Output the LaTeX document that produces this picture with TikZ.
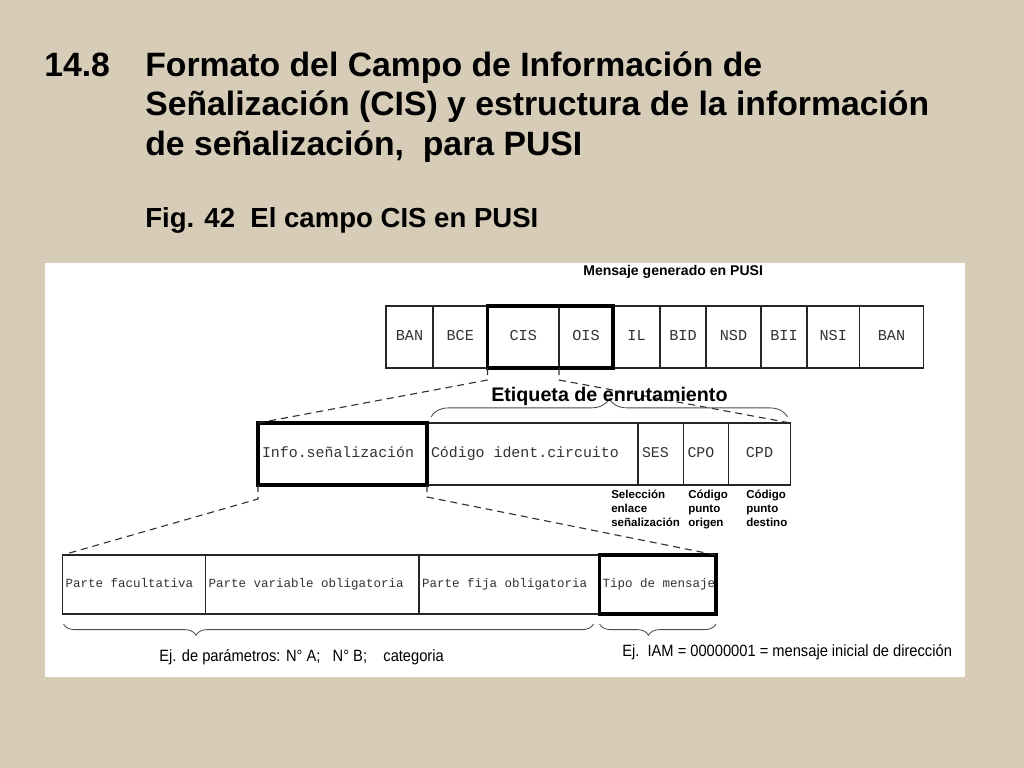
\documentclass[tikz,border=0pt]{standalone}
\usepackage{fontspec}
\setmainfont{Liberation Sans}
\newfontfamily\monofont{Liberation Mono}
\newfontfamily\narrowfont[FakeStretch=0.9]{Liberation Sans}
\usetikzlibrary{positioning, decorations.pathreplacing}
\definecolor{linen}{RGB}{214,204,183}
\newcommand\pxu{0.025cm}
\tikzset{
    field/.style={
        draw=black!85,
        line width=1pt, % borde normal
        minimum height=62*\pxu,
        inner sep=0,
        outer sep=0,
        text height=7.5pt,
        text depth=2pt,
        text=black!80,
        font=\monofont\fontsize{10.8}{12}\selectfont
    },
    cfield/.style={field, minimum width=#1*\pxu},
    lfield/.style={
        field,
        text width=#1*\pxu-8*\pxu,
        inner xsep=4*\pxu,
        align=left,
        font=\monofont\fontsize{10.6}{12}\selectfont,
        execute at begin node={\spaceskip=0.6em\relax} % espacio fijo
    },
    bfield/.style={
        lfield=#1,
        minimum height=59*\pxu,
        text width=#1*\pxu-6*\pxu,
        inner xsep=3*\pxu,
        text height=6.5pt,
        font=\monofont\fontsize{8.9}{10}\selectfont
    },
    thickframe/.style={draw=black, line width=2.2pt},
    cutline/.style={draw=black!80, line width=0.8pt, dash pattern=on 5pt off 3.5pt},
    bracepath/.style={draw=black!70, line width=0.6pt, decorate},
    titletext/.style={inner sep=0, font=\bfseries\fontsize{24}{28}\selectfont},
    figtext/.style={inner sep=0, font=\bfseries\fontsize{19.6}{22}\selectfont},
    boldnote/.style={inner sep=0, font=\bfseries\fontsize{#1}{#1}\selectfont},
    smallnote/.style={inner sep=0, font=\bfseries\fontsize{8.2}{10}\selectfont},
    exnote/.style={inner sep=0, font=\narrowfont\fontsize{11.6}{13}\selectfont}
}
\begin{document}
\begin{tikzpicture}[x=\pxu, y=-\pxu]
\useasboundingbox (0,0) rectangle (1024,768);
\fill[linen] (0,0) rectangle (1024,768);
\fill[white] (45,263) rectangle (965,677);

% titulo
\node[titletext, anchor=base west] (num) at (44,77) {14.8};
\node[titletext, anchor=base west] (tit1) at (145,77) {Formato del Campo de Información de};
\node[titletext, anchor=base west] (tit2) at (145,116) {Señalización (CIS) y estructura de la información};
\node[titletext, anchor=base west] (tit3) at (145,155) {de señalización,\ \ para PUSI};
\node[figtext, anchor=base west] (fig) at (145,227) {Fig. 42\ \ El campo CIS en PUSI};

% mensaje generado en PUSI
\node[boldnote=10, anchor=base west] (msg) at (583,275) {Mensaje generado en PUSI};
\node[cfield=47, anchor=north west] (ban1) at (386,306) {BAN};
\node[cfield=54.5, right=0pt of ban1] (bce) {BCE};
\node[cfield=71.5, right=0pt of bce] (cis) {CIS};
\node[cfield=54, right=0pt of cis] (ois) {OIS};
\node[cfield=47, right=0pt of ois] (il) {IL};
\node[cfield=46, right=0pt of il] (bid) {BID};
\node[cfield=55, right=0pt of bid] (nsd) {NSD};
\node[cfield=46, right=0pt of nsd] (bii) {BII};
\node[cfield=52.5, right=0pt of bii] (nsi) {NSI};
\node[cfield=64, right=0pt of nsi] (ban2) {BAN};

% campo CIS
\node[lfield=169, anchor=north west] (info) at (258,423) {Info.señalización};
\node[lfield=211, right=0pt of info] (cic) {Código ident.circuito};
\node[lfield=45.5, right=0pt of cic] (ses) {SES};
\node[lfield=45, right=0pt of ses] (cpo) {CPO};
\node[cfield=62, right=0pt of cpo] (cpd) {CPD};

\node[smallnote, anchor=north west, align=left] (sesnote) at (611,490) {Selección\\enlace\\señalización};
\node[smallnote, anchor=north west, align=left] (cponote) at (688,490) {Código\\punto\\origen};
\node[smallnote, anchor=north west, align=left] (cpdnote) at (746,490) {Código\\punto\\destino};

% informacion de senalizacion
\node[bfield=143, anchor=north west] (fac) at (62.5,555) {Parte facultativa};
\node[bfield=213.5, right=0pt of fac] (varob) {Parte variable obligatoria};
\node[bfield=180.5, right=0pt of varob] (fijob) {Parte fija obligatoria};
\node[bfield=116.5, right=0pt of fijob] (tipo) {\mbox{Tipo de mensaje}};

\draw[thickframe] (cis.north west) rectangle (ois.south east);
\draw[thickframe] (info.north west) rectangle (info.south east);
\draw[thickframe] (tipo.north west) rectangle (tipo.south east);

\draw[cutline] (cis.south west) -- ++(0,12) -- (info.north west);
\draw[cutline] (ois.south west) -- ++(0,12) -- (cpd.north east);
\draw[cutline] (info.south west) -- ++(0,14) -- (fac.north west);
\draw[cutline] (info.south east) -- ++(0,12) -- (tipo.north east);

% llaves
\draw[bracepath, decoration={brace, amplitude=13pt, aspect=0.5}]
    ([shift={(4,-6)}]cic.north west) -- ([shift={(-3,-6)}]cpd.north east);
\node[boldnote=14, anchor=base west] (etq) at (491,401) {Etiqueta de enrutamiento};
\draw[bracepath, decoration={brace, mirror, amplitude=8pt, aspect=0.25}]
    ([shift={(1,10)}]fac.south west) -- ([shift={(-6,10)}]fijob.south east);
\draw[bracepath, decoration={brace, mirror, amplitude=8pt, aspect=0.42}]
    ([shift={(0,10)}]tipo.south west) -- ([shift={(0,10)}]tipo.south east);
\node[exnote, anchor=base west] (parnote) at (159,661) {Ej. de parámetros: N° A;\ \ \ N° B;\ \ \ \ categoria};
\node[exnote, anchor=base west] (iamnote) at (622,656) {Ej.\ \ IAM = 00000001 = mensaje inicial de dirección};
\end{tikzpicture}
\end{document}
